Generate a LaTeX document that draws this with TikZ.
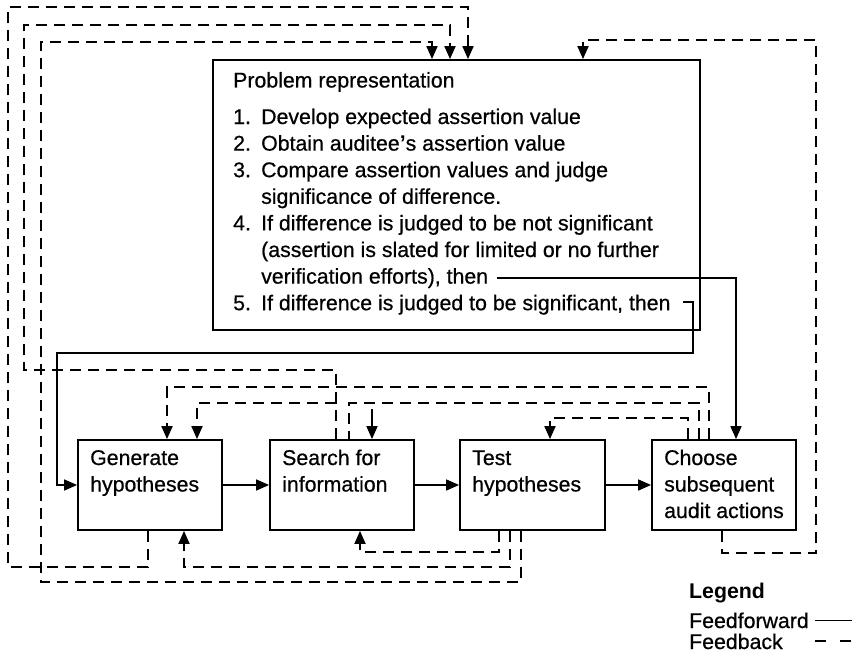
\documentclass[tikz,border=0pt]{standalone}
\usepackage{fontspec}
\setmainfont{Liberation Sans}
\newfontfamily\heavysans[FakeBold=0.6]{Liberation Sans}
\usetikzlibrary{arrows.meta}
\begin{document}
\begin{tikzpicture}[x=1pt,y=-1pt,
  box/.style={draw,line width=1.8pt,rectangle,inner sep=0pt},
  txt/.style={anchor=base west,inner sep=0pt,font=\heavysans\fontsize{21.3}{26.6}\selectfont},
  btxt/.style={anchor=base west,inner sep=0pt,font=\bfseries\fontsize{21.3}{26.6}\selectfont},
  ff/.style={line width=1.6pt},
  fb/.style={line width=1.9pt,dash pattern=on 11pt off 7pt},
  tip/.style={-{Triangle[length=13pt,width=11pt]}}]
\useasboundingbox (0,0) rectangle (854,661);

% boxes
\node[box,minimum width=487pt,minimum height=270pt] (prob) at (456.5,195) {};
\node[box,minimum width=144pt,minimum height=90pt] (gen) at (150,485) {};
\node[box,minimum width=144pt,minimum height=90pt] (srch) at (342,485) {};
\node[box,minimum width=145pt,minimum height=90pt] (test) at (532.5,485) {};
\node[box,minimum width=144pt,minimum height=90pt] (choose) at (724,485) {};

% problem text
\node[txt] (ptitle) at (233,87.5) {Problem representation};
\node[txt] (n1) at (233,124) {1.};
\node[txt] (i1) at (261,124) {Develop expected assertion value};
\node[txt] (n2) at (233,150.6) {2.};
\node[txt] (i2) at (261,150.6) {Obtain auditee{\rmfamily\bfseries ’}s assertion value};
\node[txt] (n3) at (233,177.2) {3.};
\node[txt] (i3) at (261,177.2) {Compare assertion values and judge};
\node[txt] (i3b) at (261,203.8) {significance of difference.};
\node[txt] (n4) at (233,230.4) {4.};
\node[txt] (i4) at (261,230.4) {If difference is judged to be not significant};
\node[txt] (i4b) at (261,257) {(assertion is slated for limited or no further};
\node[txt] (i4c) at (261,283.6) {verification efforts), then};
\node[txt] (n5) at (233,310.2) {5.};
\node[txt] (i5) at (261,310.2) {If difference is judged to be significant, then};

% box texts
\node[txt] (g1) at (90,465) {Generate};
\node[txt] (g2) at (90,491.5) {hypotheses};
\node[txt] (s1) at (282,465) {Search for};
\node[txt] (s2) at (282,491.5) {information};
\node[txt] (t1) at (472,465) {Test};
\node[txt] (t2) at (472,491.5) {hypotheses};
\node[txt] (c1) at (664,465) {Choose};
\node[txt] (c2) at (664,491.5) {subsequent};
\node[txt] (c3) at (664,518) {audit actions};

% feedforward
\draw[ff,tip] (gen) -- (srch);
\draw[ff,tip] (srch) -- (test);
\draw[ff,tip] (test) -- (choose);
\coordinate (c4) at (497,278);
\draw[ff,tip] (c4) -| ([xshift=12]choose.north);
\coordinate (c5) at (683,302);
\draw[ff,tip] (c5) -| (693,353) -| (57,485) -- (gen.west);

% feedback to problem representation
\draw[fb,tip] ([xshift=-2]gen.south) |- (8,567) |- (468,7) -- ([xshift=11.5]prob.north);
\draw[fb,tip] ([xshift=-6]srch.north) |- (24,370) |- (450,25) -- ([xshift=-6.5]prob.north);
\draw[fb,tip] ([xshift=-11.5]test.south) |- (41,582) |- (432,42) -- ([xshift=-24.5]prob.north);
\draw[fb,tip] ([xshift=-2]choose.south) |- (816,553) |- (583,40) -- ([xshift=126.5]prob.north);

% feedback among stages
\draw[fb,tip] ([xshift=-6]srch.north) |- (197,403) -- ([xshift=47]gen.north);
\draw[fb,tip] ([xshift=-15]choose.north) |- (167,387) -- ([xshift=17]gen.north);
\draw[fb] ([xshift=-25]choose.north) |- (349,403) -- ([xshift=7]srch.north);
\coordinate (s3) at (372,409);
\draw[ff,tip] (s3) -- ([xshift=30]srch.north);
\draw[fb,tip] ([xshift=-36]choose.north) |- (550,418) -- ([xshift=17.5]test.north);
\draw[fb,tip] ([xshift=-22.5]test.south) |- (184,567) -- ([xshift=34]gen.south);
\draw[fb,tip] ([xshift=-33.5]test.south) |- (360,552) -- ([xshift=18]srch.south);

% legend
\node[btxt] (leg) at (689,598) {Legend};
\node[txt] (lff) at (689,628) {Feedforward};
\node[txt] (lfb) at (689,649) {Feedback};
\draw[ff] ([xshift=6.5]lff.east) -- ++(37,0);
\draw[fb,dash pattern=on 11pt off 14pt] ([xshift=32]lfb.east) -- ++(37,0);
\end{tikzpicture}
\end{document}
